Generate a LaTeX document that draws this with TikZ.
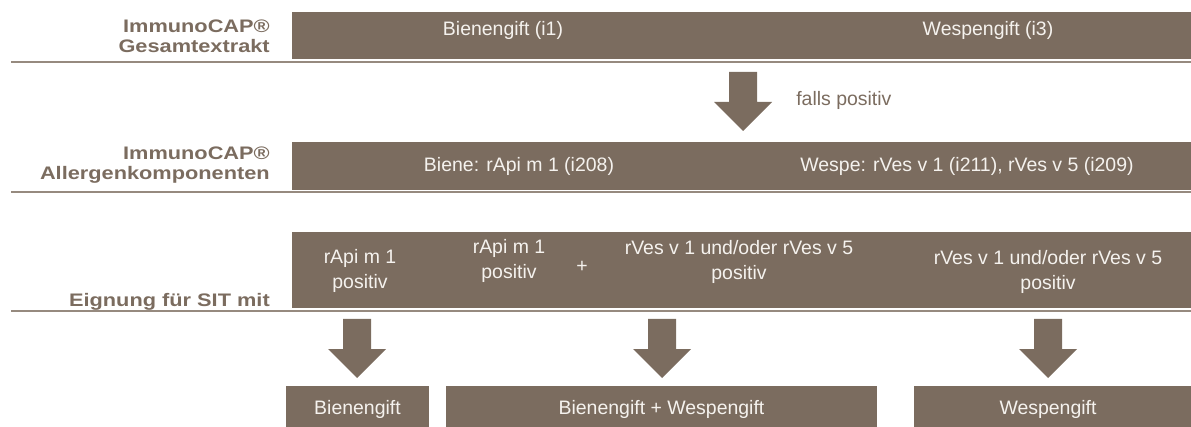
\documentclass[tikz,border=0pt]{standalone}
\usepackage{fontspec}
\setmainfont{Liberation Sans}
\newfontfamily\labfont[FakeStretch=1.2]{Liberation Sans}
\definecolor{barcol}{RGB}{123,108,95}
\definecolor{linecol}{RGB}{150,138,127}
\definecolor{bartext}{RGB}{245,242,238}
\tikzset{
  bar/.style={fill=barcol},
  sep/.style={draw=linecol, line width=1.5pt},
  bt/.style={text=bartext, align=center, inner sep=0pt, font=\fontsize{14.6}{18.5}\selectfont},
  lab/.style={text=barcol, align=right, anchor=east, inner sep=0pt, font=\labfont\bfseries\fontsize{13.6}{15}\selectfont},
  blockarrow/.pic={\fill[barcol] (-14,0) -- (14,0) -- (14,30) -- (29,30) -- (0,59) -- (-29,30) -- (-14,30) -- cycle;}
}
\begin{document}
\begin{tikzpicture}[x=0.75pt,y=-0.75pt]
\useasboundingbox (0,0) rectangle (1191,427);
% bars
\fill[bar] (292,12) rectangle (1191,59);
\fill[bar] (292,142) rectangle (1191,190);
\fill[bar] (292,232) rectangle (1191,308);
% separator lines
\draw[sep] (11,62) -- (1191,62);
\draw[sep] (11,192) -- (1191,192);
\draw[sep] (11,311) -- (1191,311);
% row labels
\node[lab] (l1) at (270,36) {ImmunoCAP®\\Gesamtextrakt};
\node[lab] (l2) at (270,165) {ImmunoCAP®\\Allergenkomponenten};
\node[lab] (l3) at (270,302) {Eignung für SIT mit};
% row 1
\node[bt] (t1a) at (503,30) {Bienengift (i1)};
\node[bt] (t1b) at (988,30) {Wespengift (i3)};
% middle arrow
\coordinate (m1) at (743,72);
\pic at (m1) {blockarrow};
\node[text=barcol, anchor=west, inner sep=0pt, font=\fontsize{14.6}{18.5}\selectfont] (fp) at (796,100) {falls positiv};
% row 2
\node[bt] (t2a) at (519,166) {Biene: rApi m 1 (i208)};
\node[bt] (t2b) at (967,166) {Wespe: rVes v 1 (i211), rVes v 5 (i209)};
% row 3
\node[bt] (c1) at (360,271) {rApi m 1\\positiv};
\node[bt] (c2) at (509,261) {rApi m 1\\positiv};
\node[bt] (plus) at (582,267) {+};
\node[bt] (c3) at (739,262) {rVes v 1 und/oder rVes v 5\\positiv};
\node[bt] (c4) at (1048,272) {rVes v 1 und/oder rVes v 5\\positiv};
% arrows down
\coordinate (d1) at (357,319);
\coordinate (d2) at (662,319);
\coordinate (d3) at (1048,319);
\pic at (d1) {blockarrow};
\pic at (d2) {blockarrow};
\pic at (d3) {blockarrow};
% result boxes
\fill[bar] (286,386) rectangle (429,427);
\fill[bar] (446,386) rectangle (877,427);
\fill[bar] (914,386) rectangle (1191,427);
\node[bt] (r1) at (357.5,409) {Bienengift};
\node[bt] (r2) at (661.5,409) {Bienengift + Wespengift};
\node[bt] (r3) at (1048,409) {Wespengift};
\end{tikzpicture}
\end{document}
